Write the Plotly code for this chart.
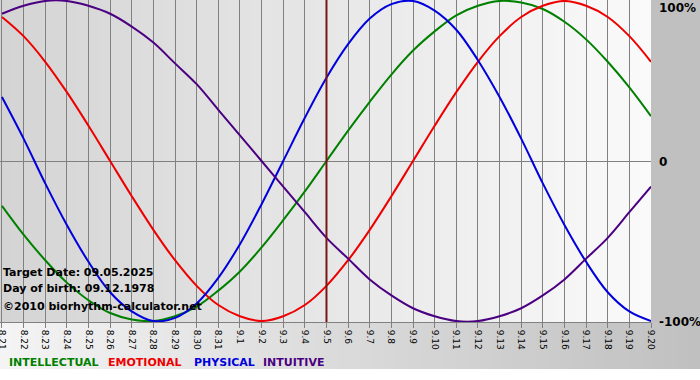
import plotly.graph_objects as go

# ---- data ----
dates = ["8.21", "8.22", "8.23", "8.24", "8.25", "8.26", "8.27", "8.28", "8.29", "8.30", "8.31",
         "9.1", "9.2", "9.3", "9.4", "9.5", "9.6", "9.7", "9.8", "9.9", "9.10",
         "9.11", "9.12", "9.13", "9.14", "9.15", "9.16", "9.17", "9.18", "9.19", "9.20"]

intellectual = [-0.28, -0.46, -0.62, -0.76, -0.87, -0.95, -0.99, -1.00, -0.97, -0.91, -0.81,
                -0.69, -0.54, -0.37, -0.19, 0.00, 0.19, 0.37, 0.54, 0.69, 0.81,
                0.91, 0.97, 1.00, 0.99, 0.95, 0.87, 0.76, 0.62, 0.46, 0.28]
emotional = [0.90, 0.78, 0.62, 0.43, 0.22, 0.00, -0.22, -0.43, -0.62, -0.78, -0.90,
             -0.97, -1.00, -0.97, -0.90, -0.78, -0.62, -0.43, -0.22, 0.00, 0.22,
             0.43, 0.62, 0.78, 0.90, 0.97, 1.00, 0.97, 0.90, 0.78, 0.62]
physical = [0.40, 0.14, -0.14, -0.40, -0.63, -0.82, -0.94, -1.00, -0.98, -0.89, -0.73,
            -0.52, -0.27, 0.00, 0.27, 0.52, 0.73, 0.89, 0.98, 1.00, 0.94,
            0.82, 0.63, 0.40, 0.14, -0.14, -0.40, -0.63, -0.82, -0.94, -1.00]
intuitive = [0.92, 0.97, 1.00, 1.00, 0.97, 0.92, 0.84, 0.74, 0.61, 0.48, 0.32,
             0.16, 0.00, -0.16, -0.32, -0.48, -0.61, -0.74, -0.84, -0.92, -0.97,
             -1.00, -1.00, -0.97, -0.92, -0.84, -0.74, -0.61, -0.48, -0.32, -0.16]

series_names = ["INTELLECTUAL", "EMOTIONAL", "PHYSICAL", "INTUITIVE"]
target_label = "9.5"
target_date = "09.05.2025"
birth_date = "09.12.1978"
copyright_text = "\u00a92010 biorhythm-calculator.net"
y_tick_vals = [1, 0, -1]
y_tick_text = ["100%", "0", "-100%"]

# ---- styles ----
colors = ["#008000", "#ee0000", "#0000dd", "#4b0082"]
FONT = "DejaVu Sans"
W, H = 700, 380
PL, PR, PT, PB = 0, 49, 0, 58
plot_w = W - PL - PR
plot_h = H - PT - PB

fig = go.Figure()
for name, vals, col in zip(series_names, [intellectual, emotional, physical, intuitive], colors):
    fig.add_trace(go.Scatter(x=dates, y=vals, mode="lines", name=name,
                             line=dict(color=col, width=2, shape="spline", smoothing=1.0),
                             hoverinfo="skip", cliponaxis=True))

shapes = []
# plot area gradient
N = 60
for i in range(N):
    t = (i + 0.5) / N
    c = int(round(212 + (250 - 212) * t))
    shapes.append(dict(type="rect", xref="paper", yref="paper", x0=i / N, x1=(i + 1) / N + 0.001,
                       y0=0, y1=1, fillcolor=f"rgb({c},{c},{c})", line=dict(width=0), layer="below"))
# right margin
xr = W / plot_w
shapes.append(dict(type="rect", xref="paper", yref="paper", x0=1, x1=xr, y0=0, y1=1,
                   fillcolor="rgb(192,192,192)", line=dict(width=0), layer="below"))
# bottom panel gradient
yb = -47 / plot_h
for i in range(N):
    t = (i + 0.5) / N
    c = int(round(244 + (192 - 244) * t))
    shapes.append(dict(type="rect", xref="paper", yref="paper", x0=i / N * xr, x1=(i + 1) / N * xr + 0.002,
                       y0=yb, y1=0, fillcolor=f"rgb({c},{c},{c})", line=dict(width=0), layer="below"))
# target date line
ti = dates.index(target_label)
shapes.append(dict(type="line", xref="x", yref="paper", x0=ti, x1=ti, y0=0, y1=1,
                   line=dict(color="#7a1515", width=2), layer="above"))

ann = []
def px_x(p):
    return p / plot_w
def px_y(p):
    return 1 - p / plot_h

for txt, y in [(f"Target Date: {target_date}", 272), (f"Day of birth: {birth_date}", 288), (copyright_text, 306)]:
    ann.append(dict(text=f"<b>{txt}</b>", xref="paper", yref="paper", x=px_x(1), y=px_y(y),
                    xanchor="left", yanchor="middle", showarrow=False,
                    font=dict(family=FONT, size=11, color="#000000")))

for txt, x in zip(series_names, [7, 106, 192, 261]):
    ann.append(dict(text=f"<b>{txt}</b>", xref="paper", yref="paper", x=px_x(x), y=px_y(362),
                    xanchor="left", yanchor="middle", showarrow=False,
                    font=dict(family=FONT, size=11, color=colors[series_names.index(txt)])))

for v, txt in zip(y_tick_vals, y_tick_text):
    ypix = {1: 8, 0: 162, -1: 322}[v]
    ann.append(dict(text=f"<b>{txt}</b>", xref="paper", yref="paper", x=px_x(657), y=px_y(ypix),
                    xanchor="left", yanchor="middle", showarrow=False,
                    font=dict(family=FONT, size=12, color="#000000")))

fig.update_layout(
    width=W, height=H,
    margin=dict(l=PL, r=PR, t=PT, b=PB, pad=0, autoexpand=False),
    paper_bgcolor="#ffffff",
    plot_bgcolor="rgba(0,0,0,0)",
    showlegend=False,
    shapes=shapes,
    annotations=ann,
    xaxis=dict(type="category", range=[-0.09, 30], tickmode="array", tickvals=dates, ticktext=dates,
               tickangle=90, tickfont=dict(family=FONT, size=9, color="#000000"),
               showgrid=True, gridcolor="#808080", gridwidth=1,
               ticks="outside", ticklen=5, tickcolor="#808080", tickwidth=1,
               showline=True, linecolor="#808080", linewidth=1, zeroline=False,
               fixedrange=True, automargin=False),
    yaxis=dict(range=[-1.006, 1.006], tickvals=y_tick_vals, showticklabels=False,
               showgrid=True, gridcolor="#808080", gridwidth=1, zeroline=False,
               showline=False, fixedrange=True, automargin=False),
)

fig.write_html("out.html", config={"displayModeBar": False},
               post_script="document.body.style.margin='0';document.body.style.padding='0';"
                           "document.documentElement.style.margin='0';document.body.style.overflow='hidden';")
